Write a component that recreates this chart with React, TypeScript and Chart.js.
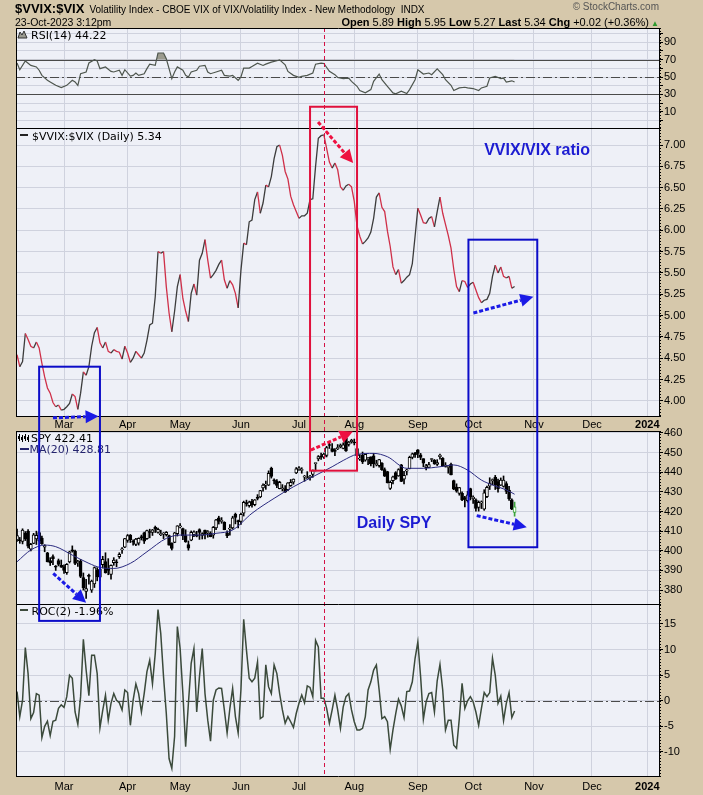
import React, { useEffect, useRef } from 'react';
import { Chart, registerables } from 'chart.js';

Chart.register(...registerables);

// ---------------- data ----------------
const monthIdx = [17, 40, 59, 81, 102, 122, 145, 165, 187, 208, 228];
const monthLabels = ['Mar', 'Apr', 'May', 'Jun', 'Jul', 'Aug', 'Sep', 'Oct', 'Nov', 'Dec', '2024'];

const rsiTicks = [0, 10, 20, 30, 40, 50, 60, 70, 80, 90, 100];
const rsiLabeled = [10, 30, 50, 70, 90];
const ratioTicks = [4.0, 4.25, 4.5, 4.75, 5.0, 5.25, 5.5, 5.75, 6.0, 6.25, 6.5, 6.75, 7.0];
const spyTicks = [380, 390, 400, 410, 420, 430, 440, 450, 460];
const rocTicks = [-10, -5, 0, 5, 10, 15];

// $VVIX:$VIX daily ratio (trading day index 0 = 3-Feb-2023)
const ratio = [
  4.54, 4.40, 4.46, 4.79, 4.72, 4.64, 4.62, 4.69, 4.62, 4.44,
  4.28, 4.15, 4.09, 3.98, 3.93, 3.95, 3.89, 3.90, 3.93, 3.97,
  4.08, 4.05, 3.90, 4.09, 4.34, 4.30, 4.40, 4.64, 4.80, 4.86,
  4.68, 4.62, 4.69, 4.58, 4.56, 4.60, 4.58, 4.57, 4.49, 4.64,
  4.56, 4.45, 4.50, 4.58, 4.54, 4.50, 4.56, 4.71, 4.89, 4.91,
  5.22, 5.75, 5.73, 5.75, 5.34, 5.03, 4.81, 5.05, 5.34, 5.48,
  5.20, 5.05, 4.93, 5.26, 5.37, 5.24, 5.65, 5.73, 5.89, 5.65,
  5.44, 5.48, 5.53, 5.60, 5.65, 5.42, 5.32, 5.41, 5.36, 5.26,
  5.09, 5.53, 5.85, 5.83, 6.10, 6.12, 6.36, 6.45, 6.20, 6.32,
  6.53, 6.51, 6.63, 6.84, 6.98, 7.00, 6.88, 6.69, 6.60, 6.40,
  6.30, 6.22, 6.14, 6.17, 6.17, 6.20, 6.36, 6.37, 6.75, 7.08,
  7.11, 7.12, 6.96, 6.80, 6.73, 6.79, 6.71, 6.51, 6.47, 6.52,
  6.54, 6.51, 6.34, 6.05, 5.93, 5.84, 5.87, 5.91, 5.98, 6.14,
  6.39, 6.44, 6.27, 6.22, 5.99, 5.81, 5.57, 5.48, 5.54, 5.38,
  5.41, 5.45, 5.48, 5.61, 5.93, 6.26, 6.18, 6.09, 6.08, 6.14,
  6.16, 6.04, 6.22, 6.39, 6.20, 6.07, 5.94, 5.79, 5.54, 5.34,
  5.28, 5.41, 5.40, 5.33, 5.37, 5.39, 5.30, 5.21, 5.15, 5.18,
  5.19, 5.26, 5.46, 5.59, 5.50, 5.57, 5.46, 5.44, 5.46, 5.32,
  5.34,
];

const spyOpen = [
  405.5, 405.5, 404.8, 409.0, 410.0, 400.8, 403.8, 406.0, 405.2, 406.5,
  401.8, 398.9, 395.0, 397.0, 392.0, 395.0, 392.6, 391.8, 388.8, 394.3,
  400.5, 399.9, 394.0, 394.8, 386.4, 379.3, 387.2, 380.0, 383.1, 390.2,
  386.6, 392.9, 394.5, 391.0, 388.0, 394.0, 394.3, 397.0, 400.5, 401.9,
  405.3, 408.0, 405.0, 403.2, 403.9, 407.2, 409.2, 406.2, 409.6, 409.3,
  412.0, 409.3, 408.2, 408.5, 408.2, 407.8, 403.8, 404.3, 408.7, 412.2,
  411.3, 407.7, 403.2, 405.4, 408.2, 407.9, 410.8, 407.8, 410.5, 409.2,
  408.9, 407.9, 411.6, 416.8, 415.0, 414.5, 409.2, 411.0, 411.6, 418.6,
  415.4, 415.0, 419.2, 424.6, 423.0, 425.2, 423.5, 426.9, 427.4, 432.0,
  433.4, 433.4, 442.0, 435.9, 435.5, 431.6, 431.6, 431.6, 431.1, 433.2,
  435.0, 439.7, 441.3, 440.9, 437.5, 436.7, 437.2, 438.9, 444.4, 446.8,
  448.2, 447.7, 448.6, 454.0, 452.1, 451.3, 451.9, 452.9, 452.1, 457.4,
  454.2, 455.6, 455.4, 452.0, 446.7, 448.8, 446.2, 446.9, 447.8, 448.3,
  443.9, 443.3, 444.7, 441.4, 440.3, 431.7, 435.7, 439.8, 438.1, 443.8,
  436.5, 440.5, 441.8, 447.6, 449.8, 451.4, 448.9, 446.9, 442.3, 442.5,
  446.5, 446.1, 444.0, 447.9, 447.1, 443.0, 442.5, 444.0, 435.7, 432.4,
  429.2, 429.2, 427.1, 425.5, 431.7, 426.6, 425.9, 422.1, 424.4, 421.2,
  427.6, 432.9, 435.6, 437.4, 435.2, 433.4, 432.8, 434.2, 430.9, 425.9,
  419.6,
];
const spyHigh = [
  411.0, 406.8, 411.2, 409.8, 410.8, 403.8, 408.9, 410.0, 409.8, 407.5,
  403.1, 399.2, 396.5, 398.0, 392.5, 395.8, 395.3, 392.8, 393.5, 399.8,
  402.5, 400.3, 395.2, 395.6, 388.7, 385.5, 388.2, 385.1, 391.8, 391.4,
  391.2, 397.2, 399.0, 396.0, 392.8, 396.5, 395.5, 399.0, 401.6, 406.3,
  408.3, 408.3, 405.6, 406.3, 406.6, 408.0, 409.5, 410.6, 411.0, 410.9,
  412.6, 411.6, 410.5, 409.3, 409.8, 408.0, 404.1, 409.4, 412.8, 413.9,
  411.5, 410.7, 405.0, 410.1, 410.2, 409.9, 411.2, 409.2, 410.6, 410.3,
  409.7, 412.4, 416.0, 417.6, 416.9, 414.8, 410.2, 413.4, 417.6, 419.2,
  415.6, 419.2, 425.3, 425.8, 425.3, 426.2, 426.1, 428.6, 430.8, 434.1,
  435.5, 440.7, 442.6, 436.6, 436.3, 435.4, 433.7, 433.2, 434.7, 436.3,
  436.6, 442.4, 442.9, 442.3, 438.4, 440.3, 438.4, 441.2, 444.7, 448.5,
  449.7, 449.7, 453.2, 454.9, 454.6, 452.0, 454.1, 454.4, 455.0, 457.7,
  455.7, 456.8, 456.9, 452.8, 449.0, 450.3, 449.3, 447.6, 447.8, 449.6,
  446.1, 446.6, 444.9, 442.2, 440.5, 435.6, 438.1, 440.3, 441.8, 444.0,
  440.5, 441.6, 448.2, 449.8, 450.1, 451.6, 449.6, 446.9, 444.0, 445.1,
  447.0, 446.5, 446.4, 449.2, 447.5, 444.9, 443.3, 444.6, 436.0, 434.1,
  432.3, 430.0, 427.7, 430.3, 431.9, 428.0, 426.4, 425.4, 425.4, 431.1,
  432.9, 437.2, 436.6, 438.4, 436.5, 437.1, 438.1, 435.2, 432.8, 426.5,
  424.8,
];
const spyLow = [
  404.8, 403.8, 403.5, 405.2, 401.5, 399.9, 403.6, 403.2, 404.8, 403.3,
  399.5, 394.3, 392.5, 392.9, 390.0, 392.3, 391.5, 388.5, 388.0, 393.8,
  399.3, 392.9, 392.0, 386.3, 380.0, 375.8, 383.0, 378.8, 381.3, 384.7,
  384.9, 391.3, 388.6, 387.8, 385.5, 392.6, 391.9, 396.1, 398.6, 401.6,
  404.3, 404.2, 402.9, 402.6, 402.9, 405.5, 403.7, 405.8, 406.6, 407.8,
  409.3, 409.0, 407.7, 406.2, 407.5, 402.8, 400.4, 404.1, 407.5, 411.6,
  405.6, 404.3, 400.3, 405.1, 407.2, 407.1, 405.8, 406.0, 406.1, 406.9,
  407.1, 406.4, 410.7, 413.6, 414.0, 410.7, 406.7, 407.9, 411.0, 413.7,
  411.7, 413.4, 417.7, 422.7, 422.2, 422.2, 422.9, 425.9, 427.0, 430.3,
  431.3, 433.2, 437.0, 434.0, 432.2, 431.5, 430.5, 429.7, 430.6, 432.8,
  433.9, 439.3, 440.9, 439.5, 435.4, 436.6, 435.9, 437.4, 440.6, 445.8,
  446.5, 447.0, 447.8, 452.1, 450.4, 448.5, 451.5, 452.4, 451.9, 450.6,
  453.3, 454.8, 453.9, 447.7, 446.0, 444.4, 445.6, 443.9, 443.2, 442.4,
  443.2, 442.6, 440.9, 437.8, 434.5, 431.2, 434.1, 436.3, 437.9, 435.2,
  434.0, 438.6, 441.7, 446.8, 447.5, 447.4, 446.4, 442.8, 441.2, 442.3,
  445.4, 444.0, 443.4, 446.6, 442.9, 442.6, 439.5, 438.6, 431.1, 429.8,
  428.3, 425.5, 422.3, 424.8, 425.9, 424.1, 420.2, 420.2, 421.5, 420.6,
  427.0, 431.2, 433.6, 431.2, 429.9, 433.2, 432.4, 429.1, 425.7, 421.0,
  417.6,
];
const spyClose = [
  407.7, 405.1, 410.5, 406.0, 402.4, 403.3, 408.1, 407.9, 409.3, 403.6,
  402.6, 394.4, 393.8, 396.0, 391.7, 393.0, 391.6, 390.0, 393.1, 399.5,
  399.8, 393.6, 394.2, 386.9, 381.2, 380.7, 387.0, 384.6, 391.4, 386.8,
  390.5, 395.7, 388.9, 390.0, 392.6, 395.3, 393.9, 398.2, 400.5, 406.2,
  407.8, 405.5, 404.4, 406.0, 406.4, 406.5, 404.9, 410.3, 409.3, 410.7,
  411.0, 410.9, 408.7, 409.0, 409.4, 402.9, 401.2, 409.2, 412.7, 412.3,
  407.6, 404.5, 401.3, 409.4, 409.7, 407.5, 409.4, 408.8, 408.4, 409.8,
  407.2, 411.9, 415.7, 414.9, 415.2, 410.8, 407.7, 411.4, 416.8, 417.0,
  414.7, 418.6, 424.7, 423.9, 424.8, 423.4, 425.9, 426.7, 430.6, 433.5,
  434.0, 439.4, 437.9, 435.6, 433.3, 434.9, 431.6, 429.8, 434.6, 434.8,
  436.5, 441.7, 442.2, 441.5, 438.1, 437.0, 438.1, 440.9, 444.4, 448.0,
  447.7, 449.2, 452.6, 453.6, 450.6, 450.6, 452.6, 453.8, 453.9, 450.9,
  455.3, 456.2, 454.9, 448.5, 447.2, 445.2, 449.1, 447.2, 444.2, 444.3,
  444.1, 446.5, 441.3, 438.0, 434.7, 434.9, 437.7, 436.6, 441.4, 435.3,
  438.4, 441.2, 447.6, 449.4, 448.8, 449.6, 447.6, 444.6, 443.3, 443.9,
  446.9, 444.4, 444.9, 448.8, 443.4, 443.6, 442.7, 438.6, 431.4, 430.4,
  432.2, 425.9, 426.1, 428.5, 427.5, 427.3, 421.6, 424.7, 424.5, 429.5,
  432.3, 434.5, 436.3, 433.7, 431.5, 436.0, 436.0, 430.2, 426.4, 421.2,
  422.4,
];

const maX = [0, 5, 10, 14, 20, 26, 30, 35, 41, 47, 54, 59, 66, 72, 78, 85, 93, 100, 107, 114, 118, 123, 129, 134, 141, 147, 153, 158, 163, 168, 172, 177, 180];
const maY = [394.4, 400.4, 402.9, 402.1, 397.8, 393.6, 391.5, 391.0, 393.6, 399.5, 406.3, 408.0, 408.0, 408.9, 410.6, 419.1, 426.7, 432.6, 437.7, 442.8, 446.0, 449.1, 449.6, 447.9, 442.0, 442.0, 442.8, 443.7, 441.1, 436.0, 433.5, 431.0, 428.8];

const rsiX = [0, 1, 3, 5, 7, 8, 9, 11, 12, 14, 16, 18, 20, 21, 22, 23, 25, 26, 28, 29, 30, 32, 34, 35, 37, 38, 39, 41, 42, 43, 44, 46, 47, 48, 50, 51, 53, 54, 55, 56, 57, 58, 60, 61, 62, 63, 65, 66, 68, 69, 70, 72, 74, 75, 77, 78, 80, 81, 82, 84, 85, 87, 89, 90, 92, 94, 95, 97, 98, 100, 102, 103, 105, 107, 108, 110, 111, 113, 115, 116, 118, 120, 121, 123, 124, 126, 128, 129, 131, 132, 134, 136, 137, 139, 141, 142, 144, 145, 147, 149, 150, 152, 154, 155, 157, 158, 160, 162, 163, 165, 167, 168, 170, 171, 173, 175, 176, 177, 179, 180];
const rsiY = [66.2, 58.4, 68.5, 63.4, 61.6, 57.8, 51.9, 46.2, 44.3, 40.4, 37.7, 40.4, 46.2, 44.3, 40.4, 53.8, 55.8, 66.2, 70.0, 68.5, 59.6, 61.6, 56.5, 55.8, 57.8, 51.9, 58.4, 51.0, 51.9, 54.6, 51.9, 53.8, 59.6, 64.7, 63.4, 77.7, 77.7, 71.0, 59.6, 48.1, 55.8, 61.6, 57.8, 51.9, 50.0, 55.8, 57.8, 62.4, 63.4, 55.8, 53.8, 55.8, 57.8, 51.9, 51.0, 51.9, 46.2, 50.0, 60.3, 60.3, 62.2, 66.0, 63.3, 64.8, 67.1, 68.7, 69.8, 64.1, 56.5, 51.9, 49.6, 50.8, 51.9, 54.6, 64.8, 66.0, 65.6, 56.5, 52.7, 49.6, 48.1, 48.8, 45.0, 39.3, 34.4, 31.7, 35.5, 45.0, 53.4, 46.9, 39.3, 31.7, 30.6, 33.6, 30.9, 35.5, 46.9, 58.4, 53.4, 54.6, 52.7, 59.5, 52.7, 46.9, 40.5, 34.4, 37.4, 38.2, 37.4, 36.7, 34.4, 37.4, 39.3, 48.8, 50.8, 48.1, 48.8, 44.1, 45.6, 44.2];

const roc = [
  1.8, -3.1, 0.1, 10.4, 5.3, -3.5, -2.3, 1.4, 1.1, -7.2,
  -5.0, -4.0, -6.8, -4.0, -3.8, -1.5, -0.8, -1.3, 0.8, 5.0,
  4.4, -2.2, -4.6, 0.8, 12.0, 6.0, 1.0, 8.9, 8.9, 5.3,
  -5.3, -1.9, 1.1, -3.8, -0.5, 1.4, 0.1, -0.4, -1.8, 2.1,
  1.6, -4.8, 0.1, 3.3, 1.4, -2.2, 1.4, 5.7, 7.9, 3.3,
  9.2, 17.8, 13.1, 4.7, -2.5, -11.3, -13.2, -7.0, 14.5, 10.2,
  1.4, -9.0, -0.5, 7.3, 10.2, -2.2, 4.7, 10.2, 1.4, -3.8,
  -7.9, 0.1, 2.1, 2.5, 2.4, -1.8, -6.3, -1.5, 2.4, -3.1,
  -6.3, 2.1, 15.9, 9.9, 4.4, 3.7, 4.4, 7.6, -3.5, -3.1,
  7.0, 2.7, 1.4, 7.0, 5.3, 1.4, -1.8, -4.4, -3.1, -4.1,
  -5.2, -2.5, -0.5, 1.1, -0.4, 2.9, 2.6, 0.8, 11.8, 10.5,
  0.5, 0.5, -1.5, -4.4, -1.8, 1.1, -1.8, -5.4, -1.2, 0.8,
  1.4, -1.8, -4.1, -5.7, -5.7, -5.4, -3.1, 2.1, 3.7, 6.0,
  7.0, 2.1, -3.5, -3.1, -4.1, -9.5, -5.7, -2.5, 0.3, -1.0,
  -3.3, 1.8, 1.9, 3.7, 8.3, 11.5, 4.7, -3.6, -0.2, 1.4,
  1.6, -2.2, 3.9, 7.1, 2.1, -5.7, -3.8, -3.8, -8.7, -9.3,
  -3.5, 3.4, -1.5, 0.0, 0.8, -0.2, -2.2, -4.8, -1.5, 1.6,
  0.8, 1.6, 8.3, 5.0, -0.5, 0.9, -3.9, -0.5, 1.6, -3.3,
  -2.0,
];

// annotations (data coordinates)
const markerDay = 111;
const annBoxes = [
  { color: '#e0103c', x0: 106, x1: 123, topAxis: 'rsi', top: 15.7, bottomAxis: 'spy', bottom: 440.8 },
  { color: '#0c0cc8', x0: 8, x1: 30, topAxis: 'ratio', top: 4.40, bottomAxis: 'roc', bottom: 15.6 },
  { color: '#0c0cc8', x0: 163.3, x1: 188.2, topAxis: 'ratio', top: 5.89, bottomAxis: 'spy', bottom: 401.8 },
];
const annArrows = [
  { color: '#ee1040', axis: 'ratio', x0: 108.9, y0: 7.27, x1: 121.6, y1: 6.79 },
  { color: '#ee1040', axis: 'spy', x0: 106.3, y0: 451.3, x1: 121.5, y1: 460.7 },
  { color: '#1a1ae6', axis: 'ratio', x0: 13, y0: 3.80, x1: 29.5, y1: 3.82 },
  { color: '#1a1ae6', axis: 'spy', x0: 13.1, y0: 388.5, x1: 25.0, y1: 373.5 },
  { color: '#1a1ae6', axis: 'ratio', x0: 165.1, y0: 5.03, x1: 186.8, y1: 5.22 },
  { color: '#1a1ae6', axis: 'spy', x0: 166.3, y0: 417.9, x1: 184.4, y1: 412.0 },
];
const annTexts = [
  { text: 'VVIX/VIX ratio', axis: 'ratio', x: 169, y: 6.94 },
  { text: 'Daily SPY', axis: 'spy', x: 122.9, y: 414.0 },
];

// ---------------- styles ----------------
const TAN = '#d6c8ab';
const PANEL = '#eef0f7';
const GRID = '#cfd2de';
const FONT = '"Liberation Sans", Arial, sans-serif';
const LFONT = '"DejaVu Sans", Verdana, sans-serif';
const RIGHT_W = 43;
const LAST = spyClose.length - 1;

function drawArrow(ctx: any, x0: number, y0: number, x1: number, y1: number, color: string) {
  const ang = Math.atan2(y1 - y0, x1 - x0);
  const headLen = 13;
  const headW = 6.5;
  const bx = x1 - headLen * Math.cos(ang);
  const by = y1 - headLen * Math.sin(ang);
  ctx.save();
  ctx.strokeStyle = color;
  ctx.lineWidth = 3;
  ctx.setLineDash([4, 2]);
  ctx.beginPath();
  ctx.moveTo(x0, y0);
  ctx.lineTo(bx, by);
  ctx.stroke();
  ctx.setLineDash([]);
  ctx.fillStyle = color;
  ctx.beginPath();
  ctx.moveTo(x1, y1);
  ctx.lineTo(bx + headW * Math.sin(ang), by - headW * Math.cos(ang));
  ctx.lineTo(bx - headW * Math.sin(ang), by + headW * Math.cos(ang));
  ctx.closePath();
  ctx.fill();
  ctx.restore();
}

const panelsPlugin = {
  id: 'panels',
  beforeDraw(chart: any) {
    const { ctx, chartArea: a } = chart;
    ctx.save();
    ctx.fillStyle = TAN;
    ctx.fillRect(0, 0, chart.width, chart.height);
    ctx.fillStyle = PANEL;
    ctx.fillRect(a.left, a.top, a.right - a.left, a.bottom - a.top);
    ctx.restore();
  },
  beforeDatasetsDraw(chart: any) {
    const { ctx, chartArea: a, scales: s } = chart;
    ctx.save();
    const h = (sc: any, v: number, color: string, dash: number[]) => {
      const y = Math.round(sc.getPixelForValue(v)) + 0.5;
      ctx.strokeStyle = color;
      ctx.lineWidth = 1;
      ctx.setLineDash(dash);
      ctx.beginPath();
      ctx.moveTo(a.left, y);
      ctx.lineTo(a.right, y);
      ctx.stroke();
    };
    h(s.rsi, 70, '#4a4a4a', []);
    h(s.rsi, 30, '#4a4a4a', []);
    h(s.rsi, 50, '#4a4a4a', [9, 3, 2, 3]);
    h(s.roc, 0, '#4a4a4a', [9, 3, 2, 3]);
    ctx.restore();
  },
  afterDatasetsDraw(chart: any) {
    const { ctx, chartArea: a, scales: s } = chart;
    const X = s.x;
    ctx.save();

    // month strip between ratio and SPY panels
    const gTop = s.gap.top;
    const gBot = s.gap.bottom;
    ctx.fillStyle = TAN;
    ctx.fillRect(a.left, gTop, a.right - a.left, gBot - gTop);
    ctx.fillStyle = '#000';
    ctx.textAlign = 'center';
    ctx.textBaseline = 'middle';
    monthIdx.forEach((v, i) => {
      ctx.font = (i === monthIdx.length - 1 ? 'bold ' : '') + '11px ' + FONT;
      ctx.fillText(monthLabels[i], X.getPixelForValue(v), (gTop + gBot) / 2 + 1);
    });

    // red dashed marker line
    const mx = Math.round(X.getPixelForValue(markerDay)) + 0.5;
    ctx.strokeStyle = '#d41044';
    ctx.lineWidth = 1;
    ctx.setLineDash([4, 3]);
    ctx.beginPath();
    ctx.moveTo(mx, a.top);
    ctx.lineTo(mx, a.bottom);
    ctx.stroke();
    ctx.setLineDash([]);

    // frames
    ctx.strokeStyle = '#000';
    ctx.lineWidth = 1;
    const hl = (y: number) => {
      const yy = Math.round(y) + 0.5;
      ctx.beginPath();
      ctx.moveTo(a.left, yy);
      ctx.lineTo(a.right + 1, yy);
      ctx.stroke();
    };
    const vl = (x: number, y0: number, y1: number) => {
      const xx = Math.round(x) + 0.5;
      ctx.beginPath();
      ctx.moveTo(xx, y0);
      ctx.lineTo(xx, y1);
      ctx.stroke();
    };
    hl(a.top);
    hl(s.rsi.bottom);
    hl(gTop - 1);
    hl(gBot);
    hl(s.spy.bottom);
    hl(a.bottom - 1);
    vl(a.left, a.top, gTop);
    vl(a.left, gBot, a.bottom);
    vl(a.right - 1, a.top, gTop);
    vl(a.right - 1, gBot, a.bottom);
    ctx.setLineDash([1, 2]);
    vl(a.right, a.top, gTop);
    vl(a.right, gBot, a.bottom);
    ctx.setLineDash([]);

    // legends
    ctx.textAlign = 'left';
    ctx.textBaseline = 'alphabetic';
    ctx.font = '11px ' + LFONT;
    // RSI
    const rt = s.rsi.top;
    ctx.fillStyle = '#9a9a90';
    ctx.beginPath();
    ctx.moveTo(18, rt + 10);
    ctx.lineTo(20, rt + 4);
    ctx.lineTo(22, rt + 7);
    ctx.lineTo(24, rt + 3);
    ctx.lineTo(27, rt + 10);
    ctx.closePath();
    ctx.fill();
    ctx.strokeStyle = '#333';
    ctx.stroke();
    ctx.fillStyle = '#000';
    ctx.fillText('RSI(14) 44.22', 31, rt + 10.5);
    // ratio
    const vt = s.ratio.top;
    ctx.fillStyle = '#222';
    ctx.fillRect(20, vt + 6, 8, 2);
    ctx.fillStyle = '#000';
    ctx.fillText('$VVIX:$VIX (Daily) 5.34', 32, vt + 11.5);
    // SPY
    const st = s.spy.top;
    ctx.fillStyle = '#000';
    [19, 22, 25, 28].forEach((x, k) => {
      ctx.fillRect(x, st + 3 + (k % 2), 1, 7);
      ctx.fillRect(x - 1, st + 5 + (k % 2), 2, 3);
    });
    ctx.fillText('SPY 422.41', 31, st + 11);
    ctx.fillStyle = '#24246e';
    ctx.fillRect(20, st + 17, 9, 2);
    ctx.fillText('MA(20) 428.81', 29.5, st + 22);
    // ROC
    const ot = s.roc.top;
    ctx.fillStyle = '#3c4a3c';
    ctx.fillRect(20, ot + 5, 8, 2);
    ctx.fillStyle = '#000';
    ctx.fillText('ROC(2) -1.96%', 31.5, ot + 10.5);

    // annotation boxes
    annBoxes.forEach((b) => {
      const x0 = X.getPixelForValue(b.x0);
      const x1 = X.getPixelForValue(b.x1);
      const y0 = s[b.topAxis].getPixelForValue(b.top);
      const y1 = s[b.bottomAxis].getPixelForValue(b.bottom);
      ctx.strokeStyle = b.color;
      ctx.lineWidth = 2;
      ctx.strokeRect(x0, y0, x1 - x0, y1 - y0);
    });
    // arrows
    annArrows.forEach((r) => {
      drawArrow(
        ctx,
        X.getPixelForValue(r.x0),
        s[r.axis].getPixelForValue(r.y0),
        X.getPixelForValue(r.x1),
        s[r.axis].getPixelForValue(r.y1),
        r.color,
      );
    });
    // texts
    ctx.font = 'bold 16px ' + FONT;
    ctx.fillStyle = '#1c1cd2';
    ctx.textBaseline = 'middle';
    annTexts.forEach((t) => {
      ctx.fillText(t.text, X.getPixelForValue(t.x), s[t.axis].getPixelForValue(t.y));
    });
    ctx.restore();
  },
};

function yAxis(
  weight: number,
  stackWeight: number,
  min: number,
  max: number,
  ticks: number[],
  fmt: (v: number) => string,
) {
  return {
    type: 'linear',
    position: 'right',
    stack: 'panels',
    stackWeight,
    weight,
    min,
    max,
    offset: false,
    afterBuildTicks: (sc: any) => {
      sc.ticks = ticks.map((v) => ({ value: v }));
    },
    afterFit: (sc: any) => {
      sc.width = RIGHT_W;
    },
    ticks: {
      display: ticks.length > 0,
      autoSkip: false,
      padding: 1,
      color: '#000',
      font: { family: FONT, size: 11 },
      callback: (v: any) => fmt(Number(v)),
    },
    grid: {
      display: ticks.length > 0,
      color: GRID,
      tickColor: '#000',
      tickLength: 3,
      drawTicks: true,
    },
    border: { display: false },
  };
}

export default function App() {
  const ref = useRef<HTMLCanvasElement>(null);

  useEffect(() => {
    const canvas = ref.current;
    if (!canvas) return;
    const chart = new Chart(canvas, {
      type: 'line',
      data: {
        datasets: [
          {
            type: 'line',
            label: 'MA(20)',
            xAxisID: 'x',
            yAxisID: 'spy',
            data: maX.map((x, i) => ({ x, y: maY[i] })),
            borderColor: '#2b2b80',
            borderWidth: 1,
            cubicInterpolationMode: 'monotone',
            pointRadius: 0,
            order: 0,
          },
          {
            type: 'bar',
            label: 'SPY body',
            xAxisID: 'x',
            yAxisID: 'spy',
            data: spyClose.map((c, i) => ({ x: i, y: [spyOpen[i], c] })),
            backgroundColor: (c: any) => {
              const i = c.dataIndex;
              return spyClose[i] < spyOpen[i] ? '#000' : '#fff';
            },
            borderColor: (c: any) => (c.dataIndex === LAST ? '#3aa33a' : '#000'),
            borderWidth: 1,
            borderSkipped: false,
            barThickness: 3,
            minBarLength: 1,
            grouped: false,
            order: 1,
          },
          {
            type: 'bar',
            label: 'SPY range',
            xAxisID: 'x',
            yAxisID: 'spy',
            data: spyClose.map((_c, i) => ({ x: i, y: [spyLow[i], spyHigh[i]] })),
            backgroundColor: (c: any) => (c.dataIndex === LAST ? '#3aa33a' : '#000'),
            barThickness: 1,
            grouped: false,
            order: 2,
          },
          {
            type: 'line',
            label: 'RSI',
            xAxisID: 'x',
            yAxisID: 'rsi',
            data: rsiX.map((x, i) => ({ x, y: rsiY[i] })),
            borderColor: '#4e564e',
            borderWidth: 1.2,
            pointRadius: 0,
            fill: { target: { value: 70 }, above: '#9b9b8e', below: 'rgba(0,0,0,0)' },
            order: 3,
          },
          {
            type: 'line',
            label: 'ratio',
            xAxisID: 'x',
            yAxisID: 'ratio',
            data: ratio.map((y, i) => ({ x: i, y })),
            borderColor: '#3c3c3c',
            borderWidth: 1.3,
            pointRadius: 0,
            segment: {
              borderColor: (c: any) => (c.p1.parsed.y < c.p0.parsed.y ? '#cf3049' : '#3c3c3c'),
            },
            order: 4,
          },
          {
            type: 'line',
            label: 'ROC',
            xAxisID: 'x',
            yAxisID: 'roc',
            data: roc.map((y, i) => ({ x: i, y })),
            borderColor: '#3b4a3b',
            borderWidth: 1.5,
            pointRadius: 0,
            order: 5,
          },
        ] as any,
      },
      options: {
        responsive: false,
        devicePixelRatio: 1,
        animation: false,
        events: [],
        layout: { padding: { left: 16, top: 28, right: 0, bottom: 0 } },
        plugins: {
          legend: { display: false },
          tooltip: { enabled: false },
          title: { display: false },
        },
        scales: {
          x: {
            type: 'linear',
            position: 'bottom',
            min: -0.37,
            max: 232.6,
            offset: false,
            afterBuildTicks: (sc: any) => {
              sc.ticks = monthIdx.map((v) => ({ value: v }));
            },
            afterFit: (sc: any) => {
              sc.height = 18;
            },
            ticks: {
              autoSkip: false,
              maxRotation: 0,
              padding: 3,
              color: '#000',
              font: (c: any) => ({
                family: FONT,
                size: 11,
                weight: c.tick && c.tick.value === monthIdx[monthIdx.length - 1] ? 'bold' : 'normal',
              }),
              callback: (v: any) => {
                const k = monthIdx.indexOf(Number(v));
                return k >= 0 ? monthLabels[k] : '';
              },
            },
            grid: { color: GRID, drawTicks: false, offset: false },
            border: { display: false },
          },
          rsi: yAxis(1, 100, -8.8, 106.5, rsiTicks, (v) => (rsiLabeled.includes(v) ? String(v) : '')),
          ratio: yAxis(2, 289, 3.81, 7.2, ratioTicks, (v) => v.toFixed(2)),
          gap: yAxis(3, 14, 0, 1, [], () => ''),
          spy: yAxis(4, 173, 372.9, 461, spyTicks, (v) => String(v)),
          roc: yAxis(5, 173, -14.9, 18.9, rocTicks, (v) => String(v)),
        } as any,
      },
      plugins: [panelsPlugin],
    } as any);
    return () => chart.destroy();
  }, []);

  return (
    <div
      style={{
        position: 'absolute',
        left: 0,
        top: 0,
        width: 703,
        height: 795,
        overflow: 'hidden',
        background: TAN,
        fontFamily: FONT,
        color: '#000',
      }}
    >
      <canvas ref={ref} width={703} height={795} style={{ position: 'absolute', left: 0, top: 0, width: 703, height: 795 }} />
      <div style={{ position: 'absolute', left: 15, top: 0, whiteSpace: 'nowrap', lineHeight: '15px' }}>
        <span style={{ fontWeight: 'bold', fontSize: 13 }}>$VVIX:$VIX</span>
        <span style={{ fontSize: 10, marginLeft: 5 }}>
          Volatility Index - CBOE VIX of VIX/Volatility Index - New Methodology&nbsp;&nbsp;INDX
        </span>
      </div>
      <div style={{ position: 'absolute', right: 44, top: 1, fontSize: 10, lineHeight: '12px', color: '#555', whiteSpace: 'nowrap' }}>
        © StockCharts.com
      </div>
      <div style={{ position: 'absolute', left: 15, top: 16, fontSize: 10.5, lineHeight: '13px', whiteSpace: 'nowrap' }}>
        23-Oct-2023 3:12pm
      </div>
      <div style={{ position: 'absolute', right: 54, top: 16, fontSize: 11, lineHeight: '13px', whiteSpace: 'nowrap' }}>
        <b>Open</b> 5.89 <b>High</b> 5.95 <b>Low</b> 5.27 <b>Last</b> 5.34 <b>Chg</b> +0.02 (+0.36%)
      </div>
      <div style={{ position: 'absolute', left: 651, top: 19, fontSize: 8, lineHeight: '9px', color: '#2e9a2e' }}>▲</div>
    </div>
  );
}
